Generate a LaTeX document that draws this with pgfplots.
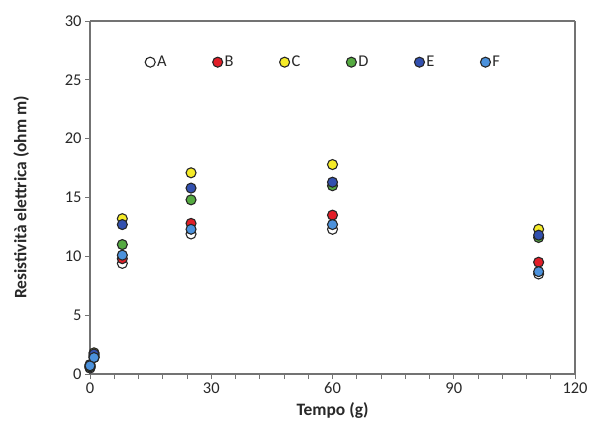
\documentclass[border=0pt]{standalone}
\usepackage{pgfplots}
\pgfplotsset{compat=1.18}
\usepackage{fontspec}
\setmainfont{Carlito}
\definecolor{cA}{RGB}{255,255,255}
\definecolor{cB}{RGB}{225,30,40}
\definecolor{cC}{RGB}{245,235,40}
\definecolor{cD}{RGB}{85,170,65}
\definecolor{cE}{RGB}{50,80,175}
\definecolor{cF}{RGB}{75,145,220}
\definecolor{txt}{RGB}{40,40,40}
\begin{document}
\begin{tikzpicture}
\begin{axis}[
  scale only axis, width=485bp, height=353bp,
  xmin=0, xmax=120, ymin=0, ymax=30,
  xtick={0,30,60,90,120}, ytick={0,5,10,15,20,25,30},
  minor x tick num=4,
  tick align=outside, tick pos=left,
  major tick length=5bp, minor tick length=5bp,
  separate axis lines,
  every outer x axis line/.append style={draw=black!55, line width=1.2pt},
  every outer y axis line/.append style={draw=black!55, line width=1.2pt},
  axis line style={draw=black!55, line width=1.2pt},
  every tick/.style={draw=black!55, line width=0.8pt},
  /pgf/number format/assume math mode=true,
  tick label style={font=\fontsize{16.5}{18}\selectfont, text=txt},
  label style={font=\bfseries\fontsize{17.5}{20}\selectfont, text=txt},
  xlabel={Tempo (g)}, ylabel={Resistività elettrica (ohm m)},
  xlabel style={yshift=-2bp},
  ylabel style={yshift=29bp},
  legend columns=6,
  legend style={draw=none, fill=none, at={(axis cs:57.8,26.5)}, anchor=center,
    font=\fontsize{16.5}{18}\selectfont, text=txt,
    /tikz/every even column/.append style={column sep=44bp}},
  legend cell align=left,
]
\addplot[only marks, mark=*, mark size=5bp, mark options={draw=black!85, line width=1.1pt, fill=cA}] coordinates {(0,0.5) (1,1.4) (8,9.4) (25,11.9) (60,12.3) (111,8.5)};
\addlegendentry{A}
\addplot[only marks, mark=*, mark size=5bp, mark options={draw=black!85, line width=1.1pt, fill=cB}] coordinates {(0,0.6) (1,1.5) (8,9.8) (25,12.8) (60,13.5) (111,9.5)};
\addlegendentry{B}
\addplot[only marks, mark=*, mark size=5bp, mark options={draw=black!85, line width=1.1pt, fill=cC}] coordinates {(0,0.7) (1,1.8) (8,13.2) (25,17.1) (60,17.8) (111,12.3)};
\addlegendentry{C}
\addplot[only marks, mark=*, mark size=5bp, mark options={draw=black!85, line width=1.1pt, fill=cD}] coordinates {(0,0.6) (1,1.6) (8,11.0) (25,14.8) (60,16.0) (111,11.6)};
\addlegendentry{D}
\addplot[only marks, mark=*, mark size=5bp, mark options={draw=black!85, line width=1.1pt, fill=cE}] coordinates {(0,0.8) (1,1.7) (8,12.7) (25,15.8) (60,16.3) (111,11.8)};
\addlegendentry{E}
\addplot[only marks, mark=*, mark size=5bp, mark options={draw=black!85, line width=1.1pt, fill=cF}] coordinates {(0,0.7) (1,1.4) (8,10.1) (25,12.3) (60,12.7) (111,8.7)};
\addlegendentry{F}
\end{axis}
\pgfresetboundingbox
\path[use as bounding box] ([shift={(-90bp,-59bp)}]current axis.south west) rectangle ([shift={(21bp,21bp)}]current axis.north east);
\end{tikzpicture}
\end{document}
